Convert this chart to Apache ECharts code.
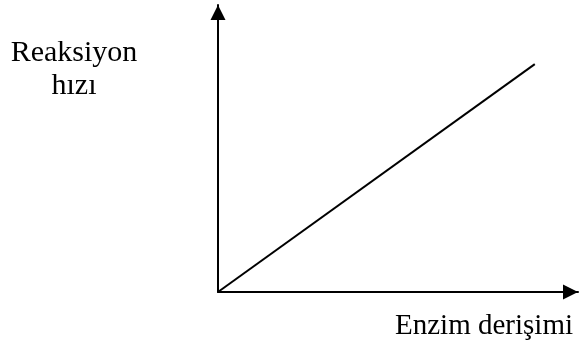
<!DOCTYPE html>
<html>
<head>
<meta charset="utf-8">
<script src="https://cdn.jsdelivr.net/npm/echarts@6/dist/echarts.min.js"></script>
<style>
  html, body { margin: 0; padding: 0; background: #fff; }
  #main { width: 579px; height: 347px; }
</style>
</head>
<body>
<div id="main"></div>
<script>
// veriler
var xLabel = 'Enzim derişimi';
var yLabel = ['Reaksiyon', 'hızı'];
var enzim = [0, 88];
var hiz = [0, 79.4];

var chart = echarts.init(document.getElementById('main'));

var lineData = [];
for (var i = 0; i < enzim.length; i++) {
    lineData.push([enzim[i], hiz[i]]);
}

var axisStyle = {
    show: true,
    symbol: ['none', 'triangle'],
    symbolSize: [15, 15],
    symbolOffset: [0, -7.5],
    lineStyle: { color: '#000', width: 2 }
};

var font = '30px "Liberation Serif", "Times New Roman", serif';

var option = {
    backgroundColor: '#fff',
    animation: false,
    grid: { left: 218, top: 5, width: 360, height: 287 },
    xAxis: {
        type: 'value', min: 0, max: 100,
        axisLine: axisStyle,
        axisTick: { show: false },
        axisLabel: { show: false },
        splitLine: { show: false }
    },
    yAxis: {
        type: 'value', min: 0, max: 100,
        axisLine: axisStyle,
        axisTick: { show: false },
        axisLabel: { show: false },
        splitLine: { show: false }
    },
    // eksen yazilari
    graphic: [
        {
            type: 'text',
            style: { text: yLabel[0], x: 74, y: 38, font: font, fill: '#000', align: 'center', verticalAlign: 'top' }
        },
        {
            type: 'text',
            style: { text: yLabel[1], x: 74, y: 71, font: font, fill: '#000', align: 'center', verticalAlign: 'top' }
        },
        {
            type: 'text',
            style: { text: xLabel, x: 395, y: 312, font: '29px "Liberation Serif", "Times New Roman", serif', fill: '#000', align: 'left', verticalAlign: 'top' }
        }
    ],
    series: [{
        type: 'line',
        data: lineData,
        symbol: 'none',
        lineStyle: { color: '#000', width: 2 }
    }]
};
chart.setOption(option);
</script>
</body>
</html>
